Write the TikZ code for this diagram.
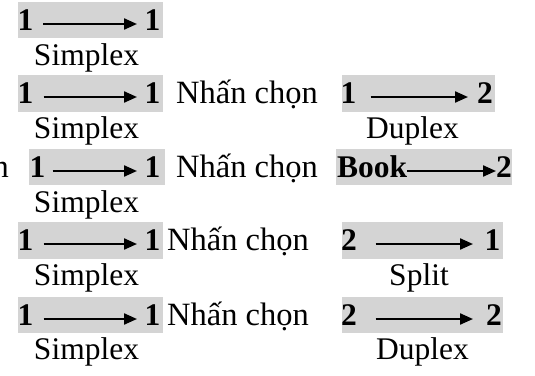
\documentclass[tikz,border=0pt]{standalone}
\usepackage{fontspec}
\setmainfont{Liberation Serif}
\usetikzlibrary{arrows.meta}

\tikzset{
  tag/.style={fill=black!17},
  num/.style={font=\bfseries, inner sep=0pt, anchor=base west},
  word/.style={inner sep=0pt, anchor=base west, font=\fontsize{32.5}{36}\selectfont},
  mode/.style={inner sep=0pt, anchor=base},
  arr/.style={-{Triangle[length=13pt,width=11pt]}, line width=2.2pt},
}

\begin{document}
\fontsize{31.5}{36}\selectfont
\begin{tikzpicture}
    [x=1pt,y=-1pt]
\useasboundingbox (0,0) rectangle (535,375);
%grey boxes
 \fill[tag] (18,2) rectangle (163,38);
 \fill[tag] (18,75) rectangle (163,112);
 \fill[tag] (342,75) rectangle (495,112);
 \fill[tag] (29,149) rectangle (165,185);
 \fill[tag] (336,149) rectangle (512,185);
 \fill[tag] (18,222) rectangle (163,259);
 \fill[tag] (342,222) rectangle (503,259);
 \fill[tag] (18,297) rectangle (163,333);
 \fill[tag] (342,297) rectangle (503,333);

%row 1
 \node[num] (la) at (17.5,30) {1};
 \node[num] (ra) at (144.5,30) {1};
 \draw[arr, shorten <=9.5pt, shorten >=7.5pt] ([yshift=6pt]la.base east) -- ([yshift=6pt]ra.base west);
 \node[mode] (sa) at (86.5,65) {Simplex};

%row 2
 \node[num] (lb) at (17.5,103) {1};
 \node[num] (rb) at (144.5,103) {1};
 \draw[arr, shorten <=10pt, shorten >=7.5pt] ([yshift=6pt]lb.base east) -- ([yshift=6pt]rb.base west);
 \node[mode] (sb) at (86.5,138.5) {Simplex};
 \node[word] (nb) at (176,103) {Nhấn chọn};
 \node[num] (xb) at (340.5,103) {1};
 \node[num] (yb) at (477,103) {2};
 \draw[arr, shorten <=14pt, shorten >=9pt] ([yshift=6pt]xb.base east) -- ([yshift=6pt]yb.base west);
 \node[mode] (db) at (412.5,138.5) {Duplex};

%row 3
 \node[word, anchor=base east] (cut) at (9,177) {n};
 \node[num] (lc) at (29.5,177) {1};
 \node[num] (rc) at (144.5,177) {1};
 \draw[arr, shorten <=7pt, shorten >=7.5pt] ([yshift=6pt]lc.base east) -- ([yshift=6pt]rc.base west);
 \node[mode] (sc) at (86.5,212) {Simplex};
 \node[word] (nc) at (176,177) {Nhấn chọn};
 \node[num] (xc) at (337,177) {Book};
 \node[num] (yc) at (496,177) {2};
 \draw[arr, shorten <=0pt, shorten >=0pt] ([yshift=6pt]xc.base east) -- ([yshift=6pt]yc.base west);

%row 4
 \node[num] (ld) at (17.5,250) {1};
 \node[num] (rd) at (144.5,250) {1};
 \draw[arr, shorten <=10pt, shorten >=7.5pt] ([yshift=6pt]ld.base east) -- ([yshift=6pt]rd.base west);
 \node[mode] (sd) at (86.5,285.5) {Simplex};
 \node[word] (nd) at (167,250) {Nhấn chọn};
 \node[num] (xd) at (341,250) {2};
 \node[num] (yd) at (484.5,250) {1};
 \draw[arr, shorten <=18.5pt, shorten >=11.5pt] ([yshift=6pt]xd.base east) -- ([yshift=6pt]yd.base west);
 \node[mode] (pd) at (419,285.5) {Split};

%row 5
 \node[num] (le) at (17.5,325) {1};
 \node[num] (re) at (144.5,325) {1};
 \draw[arr, shorten <=10pt, shorten >=7.5pt] ([yshift=6pt]le.base east) -- ([yshift=6pt]re.base west);
 \node[mode] (se) at (86.5,359) {Simplex};
 \node[word] (ne) at (167,325) {Nhấn chọn};
 \node[num] (xe) at (341,325) {2};
 \node[num] (ye) at (486,325) {2};
 \draw[arr, shorten <=18.5pt, shorten >=13pt] ([yshift=6pt]xe.base east) -- ([yshift=6pt]ye.base west);
 \node[mode] (de) at (422.5,359) {Duplex};

 \end{tikzpicture}
\end{document}
